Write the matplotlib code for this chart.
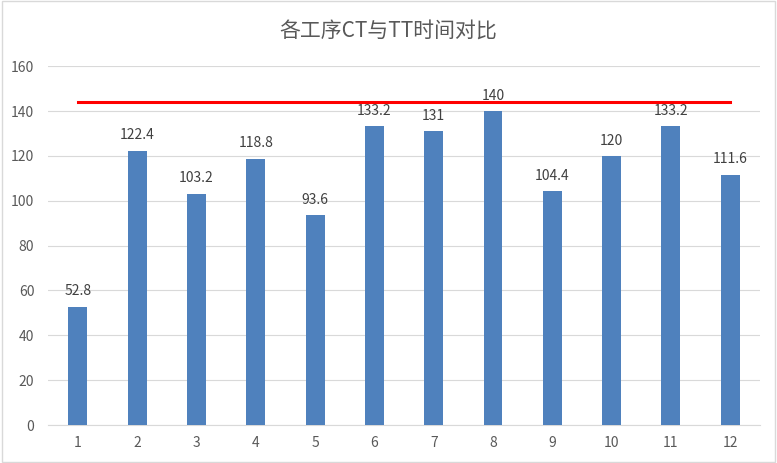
import matplotlib
matplotlib.use("Agg")
import matplotlib.pyplot as plt
from matplotlib.patches import Rectangle

plt.rcParams['font.family'] = ['Noto Sans CJK SC', 'DejaVu Sans']

categories = ['1', '2', '3', '4', '5', '6', '7', '8', '9', '10', '11', '12']
ct_values = [52.8, 122.4, 103.2, 118.8, 93.6, 133.2, 131, 140, 104.4, 120, 133.2, 111.6]
ct_labels = ['52.8', '122.4', '103.2', '118.8', '93.6', '133.2', '131', '140', '104.4', '120', '133.2', '111.6']
tt_values = [144] * 12
title = '各工序CT与TT时间对比'

fig = plt.figure(figsize=(7.77, 4.63), dpi=100)
fig.patches.append(Rectangle((0.002, 0.003), 0.995, 0.994, transform=fig.transFigure,
                             fill=False, edgecolor='#D9D9D9', linewidth=1.0))
ax = fig.add_axes([0.062, 0.082, 0.916, 0.775])

x = list(range(len(categories)))
ax.bar(x, ct_values, width=0.32, color='#4F81BD', zorder=3)
ax.plot(x, tt_values, color='#FF0000', linewidth=2.2, zorder=4)

for xi, v, lab in zip(x, ct_values, ct_labels):
    ax.annotate(lab, (xi, v), xytext=(0, 6), textcoords='offset points',
                ha='center', va='bottom', fontsize=10, color='#404040', zorder=5)

ax.set_xlim(-0.5, len(categories) - 0.5)
ax.set_ylim(0, 160)
ax.set_yticks(range(0, 161, 20))
ax.set_xticks(x)
ax.set_xticklabels(categories)
ax.tick_params(axis='both', length=0, labelsize=10, labelcolor='#595959')
ax.tick_params(axis='x', pad=8)
ax.tick_params(axis='y', pad=10)
ax.grid(axis='y', color='#D9D9D9', linewidth=0.8, zorder=0)
for s in ['top', 'right', 'left']:
    ax.spines[s].set_visible(False)
ax.spines['bottom'].set_color('#D9D9D9')
ax.spines['bottom'].set_linewidth(0.8)

fig.text(0.5, 0.931, title, ha='center', va='center', fontsize=15, color='#595959')

fig.savefig('out.png', dpi=100)
